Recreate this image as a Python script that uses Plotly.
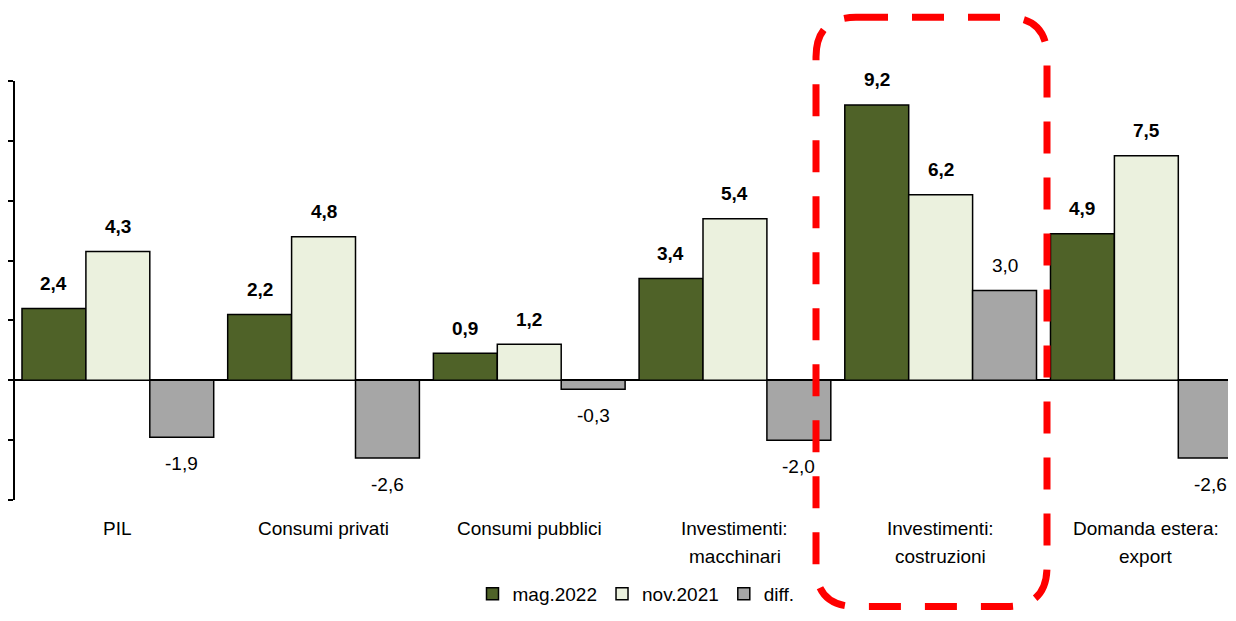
import plotly.graph_objects as go

categories = ["PIL", "Consumi privati", "Consumi pubblici",
              "Investimenti:<br>macchinari", "Investimenti:<br>costruzioni",
              "Domanda estera:<br>export"]
mag_2022 = [2.4, 2.2, 0.9, 3.4, 9.2, 4.9]
nov_2021 = [4.3, 4.8, 1.2, 5.4, 6.2, 7.5]
diff = [-1.9, -2.6, -0.3, -2.0, 3.0, -2.6]
series_names = ["mag.2022", "nov.2021", "diff."]
colors = ["#4F6228", "#EBF1DE", "#A6A6A6"]

FONT = "Liberation Sans, Arial, sans-serif"

def fmt(v):
    return f"{v:.1f}".replace(".", ",")

idx = list(range(len(categories)))
fig = go.Figure()
for name, vals, col in zip(series_names, [mag_2022, nov_2021, diff], colors):
    fig.add_trace(go.Bar(
        x=idx, y=vals, name=name,
        marker=dict(color=col, line=dict(color="black", width=1.5)),
        hoverinfo="skip",
    ))

OFF = 8  # page body margin
W, H = 1228, 605
page_bottom_plot = 502
ml, mt = 15 - OFF, 81 - OFF
mb = H - (page_bottom_plot - OFF)
cat_px = 205.7
pw = W - ml
ph = H - mt - mb
x_right = -0.5 + pw / cat_px

annotations = []
bar_px = 64
for s, vals in enumerate([mag_2022, nov_2021, diff]):
    for i, v in enumerate(vals):
        bold = s < 2
        txt = fmt(v)
        if bold:
            txt = "<b>" + txt + "</b>"
        annotations.append(dict(
            x=i, y=v, xref="x", yref="y", text=txt, showarrow=False,
            xshift=(s - 1) * bar_px, yshift=25 if v >= 0 else -26,
            font=dict(family=FONT, size=19, color="black"),
        ))

# category labels (each line separately for Excel-like line spacing)
for i, c in enumerate(categories):
    lines = c.split("<br>")
    for j, ln in enumerate(lines):
        annotations.append(dict(
            x=i, y=0, xref="x", yref="paper", text=ln, showarrow=False,
            yanchor="middle", yshift=-28 - 28 * j,
            font=dict(family=FONT, size=19, color="black"),
        ))

# red dashed rounded box (page pixel -> paper conversion)
def px(x):
    return (x - OFF - ml) / pw
def py(y):
    return (H - mb - (y - OFF)) / ph

x0, x1, y0, y1, r = 816, 1047, 17, 609, 40
path = (f"M {px(x0 + r)},{py(y0)} L {px(x1 - r)},{py(y0)} "
        f"Q {px(x1)},{py(y0)} {px(x1)},{py(y0 + r)} "
        f"L {px(x1)},{py(y1 - r)} Q {px(x1)},{py(y1)} {px(x1 - r)},{py(y1)} "
        f"L {px(x0 + r)},{py(y1)} Q {px(x0)},{py(y1)} {px(x0)},{py(y1 - r)} "
        f"L {px(x0)},{py(y0 + r)} Q {px(x0)},{py(y0)} {px(x0 + r)},{py(y0)} Z")

fig.update_layout(
    width=W, height=H,
    margin=dict(l=ml, r=0, t=mt, b=mb),
    paper_bgcolor="white", plot_bgcolor="white",
    barmode="group", bargap=0.068, bargroupgap=0,
    font=dict(family=FONT, size=19, color="black"),
    xaxis=dict(range=[-0.5, x_right], showticklabels=False, showline=False,
               showgrid=False, zeroline=False, ticks=""),
    yaxis=dict(range=[-4, 10], dtick=2, tick0=0, showticklabels=False,
               showgrid=False, showline=True, linecolor="black", linewidth=2,
               ticks="outside", ticklen=5, tickwidth=2, tickcolor="black",
               zeroline=True, zerolinecolor="black", zerolinewidth=2),
    showlegend=True,
    legend=dict(orientation="h", x=px(636), xanchor="center",
                y=(H - mb - (597 - OFF)) / ph,
                yanchor="middle", font=dict(family=FONT, size=19),
                itemwidth=30, tracegroupgap=0),
    annotations=annotations,
    shapes=[dict(type="path", path=path, xref="paper", yref="paper",
                 line=dict(color="#FF0000", width=7, dash="32px,24px"),
                 layer="above")],
)

fig.write_html("out.html")
